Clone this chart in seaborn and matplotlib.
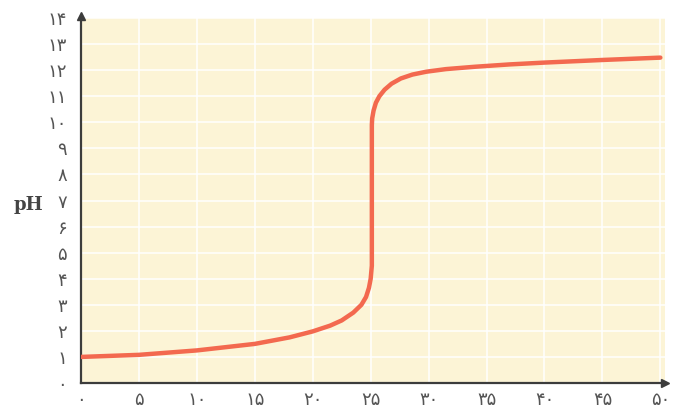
import numpy as np
import pandas as pd
import seaborn as sns
import matplotlib.pyplot as plt

# volume of base added (x) and pH
volume = [0, 5, 10, 15, 18, 20, 21.5, 22.5, 23.5, 24.2, 24.6, 24.85, 25.0, 25.1, 25.1,
          25.13, 25.25, 25.45, 25.75, 26.2, 26.8, 27.6, 28.6, 29.8, 31.5, 34, 37, 40, 45, 50]
ph = [1.0, 1.08, 1.25, 1.5, 1.75, 1.98, 2.2, 2.4, 2.7, 3.0, 3.3, 3.65, 4.0, 4.5, 9.9,
      10.15, 10.45, 10.75, 11.0, 11.25, 11.48, 11.68, 11.83, 11.94, 12.04, 12.13, 12.22, 12.29, 12.39, 12.48]

x_ticks = [0, 5, 10, 15, 20, 25, 30, 35, 40, 45, 50]
x_labels = ['۰', '۵', '۱۰', '۱۵', '۲۰', '۲۵', '۳۰', '۳۵', '۴۰', '۴۵', '۵۰']
y_ticks = list(range(15))
y_labels = ['۰', '۱', '۲', '۳', '۴', '۵', '۶', '۷', '۸', '۹', '۱۰', '۱۱', '۱۲', '۱۳', '۱۴']

df = pd.DataFrame({'volume': volume, 'pH': ph})

sns.set_style('white')
plt.rcParams['font.family'] = ['DejaVu Sans']

fig = plt.figure(figsize=(6.81, 4.08), dpi=100)
ax = fig.add_axes([81/681, 25/408, 584/681, 365/408])
ax.set_facecolor('#fcf4d6')

# white grid
for xv in x_ticks[1:]:
    ax.axvline(xv, color='white', lw=1.2, alpha=0.9, zorder=1)
for yv in y_ticks[1:]:
    ax.axhline(yv, color='white', lw=1.2, alpha=0.9, zorder=1)

sns.lineplot(data=df, x='volume', y='pH', sort=False, estimator=None,
             color='#f3694f', lw=3.2, ax=ax, zorder=3,
             solid_joinstyle='round', solid_capstyle='round')

ax.set_xlim(0, 50.4)
ax.set_ylim(0, 14)
ax.set_xticks(x_ticks)
ax.set_xticklabels(x_labels)
ax.set_yticks(y_ticks)
ax.set_yticklabels(y_labels)
ax.tick_params(axis='both', length=0, labelsize=13, colors='#555555')
ax.tick_params(axis='x', pad=6)
ax.tick_params(axis='y', pad=10)
ax.set_xlabel('')
ax.set_ylabel('')

for s in ['top', 'right']:
    ax.spines[s].set_visible(False)
for s in ['left', 'bottom']:
    ax.spines[s].set_color('#3c3c3c')
    ax.spines[s].set_linewidth(1.6)

# arrow heads
ax.plot(1, 0, '>', color='#3c3c3c', ms=6, transform=ax.transAxes, clip_on=False)
ax.plot(0, 1.005, '^', color='#3c3c3c', ms=6, transform=ax.transAxes, clip_on=False)

fig.text(28/681, 1 - 205/408, 'pH', fontsize=13, fontweight='bold', family='DejaVu Serif',
         color='#444444', ha='center', va='center')

fig.savefig('out.png', dpi=100)
